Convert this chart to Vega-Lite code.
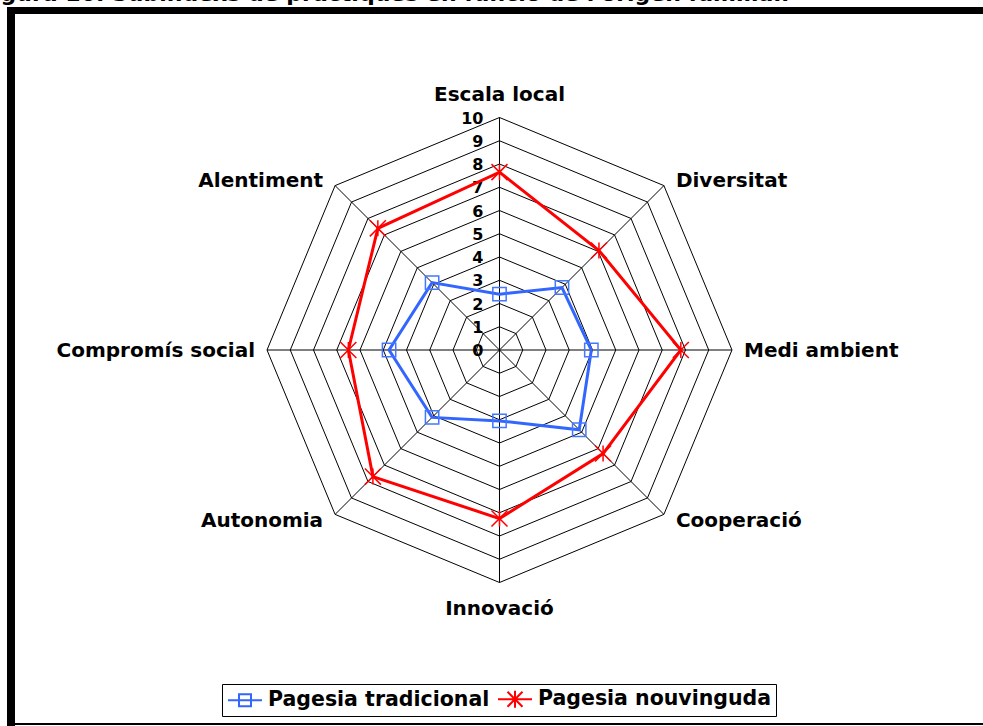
{
  "$schema": "https://vega.github.io/schema/vega-lite/v6.json",
  "width": 983,
  "height": 726,
  "padding": 0,
  "autosize": {"type": "none"},
  "background": "white",
  "config": {"view": {"stroke": null}, "font": "DejaVu Sans", "text": {"font": "DejaVu Sans"}},
  "datasets": {
    "valors": [
      {"serie": "Pagesia tradicional", "categoria": "Escala local", "k": 0, "valor": 2.4},
      {"serie": "Pagesia tradicional", "categoria": "Diversitat", "k": 1, "valor": 3.8},
      {"serie": "Pagesia tradicional", "categoria": "Medi ambient", "k": 2, "valor": 3.95},
      {"serie": "Pagesia tradicional", "categoria": "Cooperació", "k": 3, "valor": 4.85},
      {"serie": "Pagesia tradicional", "categoria": "Innovació", "k": 4, "valor": 3.05},
      {"serie": "Pagesia tradicional", "categoria": "Autonomia", "k": 5, "valor": 4.1},
      {"serie": "Pagesia tradicional", "categoria": "Compromís social", "k": 6, "valor": 4.75},
      {"serie": "Pagesia tradicional", "categoria": "Alentiment", "k": 7, "valor": 4.1},
      {"serie": "Pagesia nouvinguda", "categoria": "Escala local", "k": 0, "valor": 7.65},
      {"serie": "Pagesia nouvinguda", "categoria": "Diversitat", "k": 1, "valor": 6.05},
      {"serie": "Pagesia nouvinguda", "categoria": "Medi ambient", "k": 2, "valor": 7.8},
      {"serie": "Pagesia nouvinguda", "categoria": "Cooperació", "k": 3, "valor": 6.3},
      {"serie": "Pagesia nouvinguda", "categoria": "Innovació", "k": 4, "valor": 7.25},
      {"serie": "Pagesia nouvinguda", "categoria": "Autonomia", "k": 5, "valor": 7.7},
      {"serie": "Pagesia nouvinguda", "categoria": "Compromís social", "k": 6, "valor": 6.5},
      {"serie": "Pagesia nouvinguda", "categoria": "Alentiment", "k": 7, "valor": 7.4}
    ],
    "cats": [
      {"categoria": "Escala local", "k": 0},
      {"categoria": "Diversitat", "k": 1},
      {"categoria": "Medi ambient", "k": 2},
      {"categoria": "Cooperació", "k": 3},
      {"categoria": "Innovació", "k": 4},
      {"categoria": "Autonomia", "k": 5},
      {"categoria": "Compromís social", "k": 6},
      {"categoria": "Alentiment", "k": 7}
    ],
    "anells": [
      {"anell": 1, "k": [0, 1, 2, 3, 4, 5, 6, 7]},
      {"anell": 2, "k": [0, 1, 2, 3, 4, 5, 6, 7]},
      {"anell": 3, "k": [0, 1, 2, 3, 4, 5, 6, 7]},
      {"anell": 4, "k": [0, 1, 2, 3, 4, 5, 6, 7]},
      {"anell": 5, "k": [0, 1, 2, 3, 4, 5, 6, 7]},
      {"anell": 6, "k": [0, 1, 2, 3, 4, 5, 6, 7]},
      {"anell": 7, "k": [0, 1, 2, 3, 4, 5, 6, 7]},
      {"anell": 8, "k": [0, 1, 2, 3, 4, 5, 6, 7]},
      {"anell": 9, "k": [0, 1, 2, 3, 4, 5, 6, 7]},
      {"anell": 10, "k": [0, 1, 2, 3, 4, 5, 6, 7]}
    ],
    "ticks": [
      {"v": 0}, {"v": 1}, {"v": 2}, {"v": 3}, {"v": 4}, {"v": 5},
      {"v": 6}, {"v": 7}, {"v": 8}, {"v": 9}, {"v": 10}
    ],
    "marc": [{"vora": "esquerra"}, {"vora": "superior"}, {"vora": "inferior"}],
    "titol": [{"titol": "Figura 10. Subíndexs de pràctiques en funció de l'origen familiar."}]
  },
  "encoding": {
    "x": {"field": "x", "type": "quantitative", "scale": {"domain": [-21.484, 20.796], "nice": false, "zero": false}, "axis": null},
    "y": {"field": "y", "type": "quantitative", "scale": {"domain": [-16.172, 15.054], "nice": false, "zero": false}, "axis": null}
  },
  "layer": [
    {
      "data": {"name": "anells"},
      "transform": [
        {"flatten": ["k"]},
        {"calculate": "datum.anell * sin(datum.k * PI / 4)", "as": "x"},
        {"calculate": "datum.anell * cos(datum.k * PI / 4)", "as": "y"}
      ],
      "mark": {"type": "line", "interpolate": "linear-closed", "stroke": "black", "strokeWidth": 1},
      "encoding": {
        "detail": {"field": "anell", "type": "nominal"},
        "order": {"field": "k", "type": "quantitative"}
      }
    },
    {
      "data": {"name": "cats"},
      "transform": [
        {"calculate": "0", "as": "x"},
        {"calculate": "0", "as": "y"},
        {"calculate": "10 * sin(datum.k * PI / 4)", "as": "sx"},
        {"calculate": "10 * cos(datum.k * PI / 4)", "as": "sy"}
      ],
      "mark": {"type": "rule", "stroke": "black", "strokeWidth": 1},
      "encoding": {
        "x2": {"field": "sx"},
        "y2": {"field": "sy"}
      }
    },
    {
      "data": {"name": "ticks"},
      "transform": [
        {"calculate": "0", "as": "x"},
        {"calculate": "datum.v", "as": "y"}
      ],
      "mark": {"type": "text", "align": "right", "baseline": "middle", "dx": -16, "dy": 1, "fontSize": 16, "fontWeight": "bold", "color": "black"},
      "encoding": {"text": {"field": "v", "type": "quantitative"}}
    },
    {
      "data": {"name": "cats"},
      "transform": [
        {"filter": "datum.k == 0"},
        {"calculate": "0", "as": "x"},
        {"calculate": "10", "as": "y"}
      ],
      "mark": {"type": "text", "align": "center", "baseline": "middle", "dy": -23, "fontSize": 20, "fontWeight": "bold", "color": "black"},
      "encoding": {"text": {"field": "categoria"}}
    },
    {
      "data": {"name": "cats"},
      "transform": [
        {"filter": "datum.k == 4"},
        {"calculate": "0", "as": "x"},
        {"calculate": "-10", "as": "y"}
      ],
      "mark": {"type": "text", "align": "center", "baseline": "middle", "dy": 26, "fontSize": 20, "fontWeight": "bold", "color": "black"},
      "encoding": {"text": {"field": "categoria"}}
    },
    {
      "data": {"name": "cats"},
      "transform": [
        {"filter": "datum.k >= 1 && datum.k <= 3"},
        {"calculate": "10 * sin(datum.k * PI / 4)", "as": "x"},
        {"calculate": "10.34 * cos(datum.k * PI / 4)", "as": "y"}
      ],
      "mark": {"type": "text", "align": "left", "baseline": "middle", "dx": 12, "dy": 1, "fontSize": 20, "fontWeight": "bold", "color": "black"},
      "encoding": {"text": {"field": "categoria"}}
    },
    {
      "data": {"name": "cats"},
      "transform": [
        {"filter": "datum.k >= 5"},
        {"calculate": "10 * sin(datum.k * PI / 4)", "as": "x"},
        {"calculate": "10.34 * cos(datum.k * PI / 4)", "as": "y"}
      ],
      "mark": {"type": "text", "align": "right", "baseline": "middle", "dx": -12, "dy": 1, "fontSize": 20, "fontWeight": "bold", "color": "black"},
      "encoding": {"text": {"field": "categoria"}}
    },
    {
      "data": {"name": "valors"},
      "transform": [
        {"calculate": "datum.valor * sin(datum.k * PI / 4)", "as": "x"},
        {"calculate": "datum.valor * cos(datum.k * PI / 4)", "as": "y"}
      ],
      "mark": {"type": "line", "interpolate": "linear-closed", "strokeWidth": 3},
      "encoding": {
        "order": {"field": "k", "type": "quantitative"},
        "color": {
          "field": "serie", "type": "nominal",
          "scale": {"domain": ["Pagesia tradicional", "Pagesia nouvinguda"], "range": ["#3366FF", "#FF0000"]},
          "legend": {
            "title": null,
            "orient": "none",
            "legendX": 222,
            "legendY": 684,
            "direction": "horizontal",
            "strokeColor": "black",
            "fillColor": "white",
            "padding": 4,
            "columnPadding": 4,
            "symbolOffset": 8,
            "labelOffset": 12,
            "labelFont": "DejaVu Sans",
            "labelFontSize": 20.5,
            "labelFontWeight": "bold",
            "labelColor": "black",
            "labelLimit": 400,
            "symbolSize": 400,
            "symbolStrokeWidth": 2,
            "encode": {
              "symbols": {
                "update": {
                  "shape": {"signal": "datum.value === 'Pagesia tradicional' ? 'M-1.7,0H1.7M-0.6,-0.6H0.6V0.6H-0.6Z' : 'M-1.7,0H1.7M-0.75,-0.75L0.75,0.75M-0.75,0.75L0.75,-0.75M0,-0.85V0.85'"},
                  "fill": {"value": "transparent"},
                  "strokeWidth": {"value": 2}
                }
              }
            }
          }
        }
      }
    },
    {
      "data": {"name": "valors"},
      "transform": [
        {"filter": "datum.serie === 'Pagesia tradicional'"},
        {"calculate": "datum.valor * sin(datum.k * PI / 4)", "as": "x"},
        {"calculate": "datum.valor * cos(datum.k * PI / 4)", "as": "y"}
      ],
      "mark": {"type": "point", "filled": false, "size": 178, "strokeWidth": 1.5, "opacity": 1, "stroke": "#4477FF", "shape": "M-1,-1H1V1H-1Z"}
    },
    {
      "data": {"name": "valors"},
      "transform": [
        {"filter": "datum.serie === 'Pagesia nouvinguda'"},
        {"calculate": "datum.valor * sin(datum.k * PI / 4)", "as": "x"},
        {"calculate": "datum.valor * cos(datum.k * PI / 4)", "as": "y"}
      ],
      "mark": {"type": "point", "filled": false, "size": 178, "strokeWidth": 1.5, "opacity": 1, "stroke": "#FF0000", "shape": "M-1.2,-1.2L1.2,1.2M-1.2,1.2L1.2,-1.2M0,-1.2V1.2"}
    },
    {
      "data": {"name": "marc"},
      "transform": [
        {"filter": "datum.vora === 'esquerra'"},
        {"calculate": "-21.011", "as": "x"},
        {"calculate": "14.753", "as": "y"},
        {"calculate": "-16.172", "as": "y2"}
      ],
      "mark": {"type": "rule", "stroke": "black", "strokeWidth": 8, "strokeCap": "butt"},
      "encoding": {"y2": {"field": "y2"}}
    },
    {
      "data": {"name": "marc"},
      "transform": [
        {"filter": "datum.vora === 'superior'"},
        {"calculate": "-21.183", "as": "x"},
        {"calculate": "14.602", "as": "y"},
        {"calculate": "20.796", "as": "x2"}
      ],
      "mark": {"type": "rule", "stroke": "black", "strokeWidth": 7, "strokeCap": "butt"},
      "encoding": {"x2": {"field": "x2"}}
    },
    {
      "data": {"name": "marc"},
      "transform": [
        {"filter": "datum.vora === 'inferior'"},
        {"calculate": "-21.011", "as": "x"},
        {"calculate": "-16.086", "as": "y"},
        {"calculate": "20.796", "as": "x2"}
      ],
      "mark": {"type": "rule", "stroke": "black", "strokeWidth": 2, "strokeCap": "butt"},
      "encoding": {"x2": {"field": "x2"}}
    },
    {
      "data": {"name": "titol"},
      "transform": [
        {"calculate": "-21.484", "as": "x"},
        {"calculate": "15.011", "as": "y"}
      ],
      "mark": {"type": "text", "align": "left", "baseline": "alphabetic", "dx": -22, "fontSize": 22, "fontWeight": "bold", "color": "black"},
      "encoding": {"text": {"field": "titol"}}
    }
  ]
}
